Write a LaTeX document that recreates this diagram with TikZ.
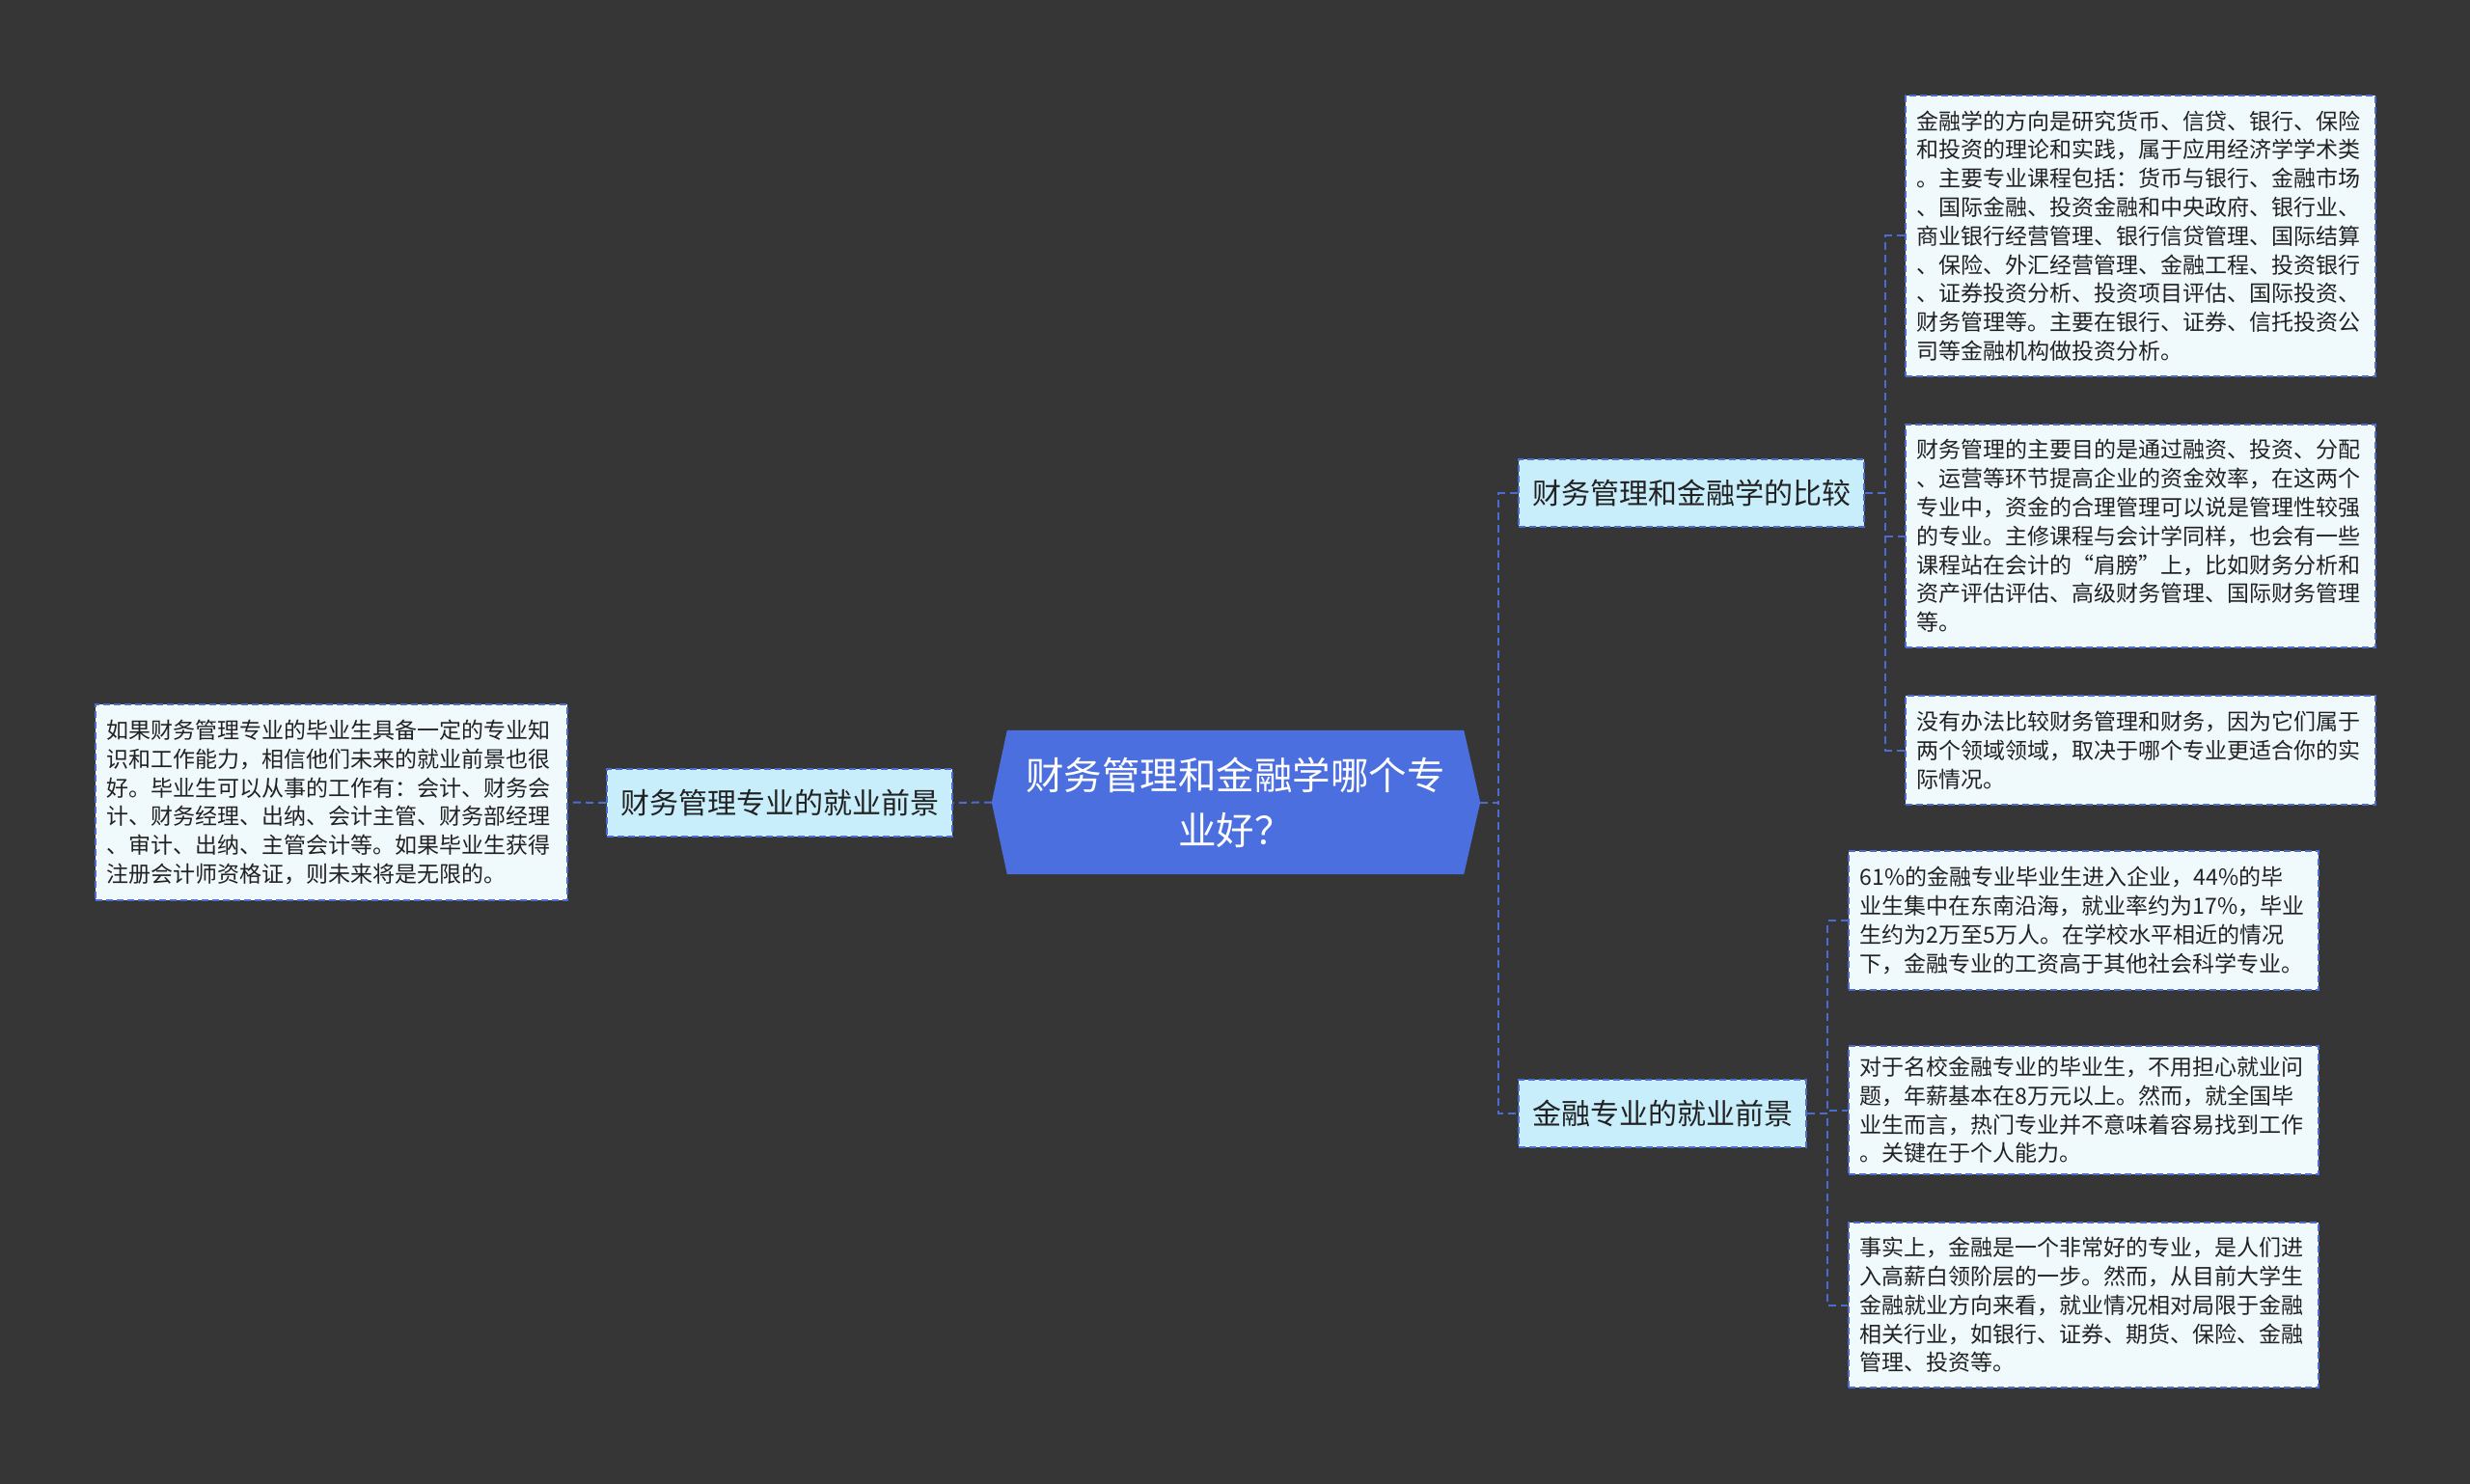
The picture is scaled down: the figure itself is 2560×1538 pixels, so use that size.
\documentclass[tikz,border=0pt]{standalone}
\usepackage{fontspec}
\setmainfont{Noto Sans CJK SC}
\usetikzlibrary{backgrounds,calc}
\definecolor{bg}{HTML}{363636}
\definecolor{rootblue}{HTML}{4B6FDE}
\definecolor{edge}{HTML}{4A6CD4}
\definecolor{midfill}{HTML}{C8EDFB}
\definecolor{leaffill}{HTML}{F0FAFD}
\definecolor{txt}{HTML}{222222}
\begin{document}
\begin{tikzpicture}[x=1pt,y=-1pt,
  conn/.style={draw=edge, line width=2pt, dash pattern=on 8pt off 5pt},
  midbox/.style={draw=edge, line width=2pt, dash pattern=on 7pt off 4pt, fill=midfill, text=txt,
    font=\fontsize{30}{36}\selectfont, inner xsep=14pt, inner ysep=0pt, minimum height=70pt, anchor=west},
  leafbox/.style={draw=edge, line width=1.8pt, dash pattern=on 7pt off 4pt, fill=leaffill, text=txt,
    font=\fontsize{23}{29.8}\selectfont, inner xsep=12pt, inner ysep=0pt, text width=463pt, align=left, anchor=west},
  rootbox/.style={text=white, font=\fontsize{39.5}{57}\selectfont, align=center,
    minimum width=473pt, minimum height=149pt, inner sep=0pt}
]
\useasboundingbox (0,0) rectangle (2560,1538);

% central topic
\node[rootbox] (root) at (1280.5,831.5) {财务管理和金融学哪个专\\业好？};

% main branches
\node[midbox] (cmp) at (1573,511) {财务管理和金融学的比较};
\node[midbox] (job) at (1573,1153.5) {金融专业的就业前景};
\node[midbox] (lnode) at (628,832) {财务管理专业的就业前景};

% left leaf
\node[leafbox, text width=465pt, minimum height=203pt] (l0) at (98,831.5) {如果财务管理专业的毕业生具备一定的专业知\\识和工作能力，相信他们未来的就业前景也很\\好。毕业生可以从事的工作有：会计、财务会\\计、财务经理、出纳、会计主管、财务部经理\\、审计、出纳、主管会计等。如果毕业生获得\\注册会计师资格证，则未来将是无限的。};

% right leaves (comparison)
\node[leafbox, minimum height=291pt] (r1) at (1974,244.5) {金融学的方向是研究货币、信贷、银行、保险\\和投资的理论和实践，属于应用经济学学术类\\。主要专业课程包括：货币与银行、金融市场\\、国际金融、投资金融和中央政府、银行业、\\商业银行经营管理、银行信贷管理、国际结算\\、保险、外汇经营管理、金融工程、投资银行\\、证券投资分析、投资项目评估、国际投资、\\财务管理等。主要在银行、证券、信托投资公\\司等金融机构做投资分析。};
\node[leafbox, minimum height=231pt] (r2) at (1974,555.5) {财务管理的主要目的是通过融资、投资、分配\\、运营等环节提高企业的资金效率，在这两个\\专业中，资金的合理管理可以说是管理性较强\\的专业。主修课程与会计学同样，也会有一些\\课程站在会计的“肩膀”上，比如财务分析和\\资产评估评估、高级财务管理、国际财务管理\\等。};
\node[leafbox, minimum height=113pt] (r3) at (1974,777.5) {没有办法比较财务管理和财务，因为它们属于\\两个领域领域，取决于哪个专业更适合你的实\\际情况。};

% right leaves (finance jobs)
\node[leafbox, minimum height=144pt] (r4) at (1915,954) {61\%的金融专业毕业生进入企业，44\%的毕\\业生集中在东南沿海，就业率约为17\%，毕业\\生约为2万至5万人。在学校水平相近的情况\\下，金融专业的工资高于其他社会科学专业。};
\node[leafbox, minimum height=133pt] (r5) at (1915,1150.5) {对于名校金融专业的毕业生，不用担心就业问\\题，年薪基本在8万元以上。然而，就全国毕\\业生而言，热门专业并不意味着容易找到工作\\。关键在于个人能力。};
\node[leafbox, minimum height=171pt] (r6) at (1915,1352.5) {事实上，金融是一个非常好的专业，是人们进\\入高薪白领阶层的一步。然而，从目前大学生\\金融就业方向来看，就业情况相对局限于金融\\相关行业，如银行、证券、期货、保险、金融\\管理、投资等。};

\coordinate (rootR) at ($(root.east)+(17,0)$);
\coordinate (rootL) at ($(root.west)+(-16,0)$);

\begin{scope}[on background layer]
  \fill[bg] (0,0) rectangle (2560,1538);
  \fill[rootblue] (rootL) -- (root.north west) -- (root.north east) -- (rootR)
     -- (root.south east) -- (root.south west) -- cycle;
  % connectors
  \draw[conn] (rootR) -- ++(19,0) |- (cmp.west);
  \draw[conn] (rootR) -- ++(19,0) |- (job.west);
  \draw[conn] (rootL) -- (lnode.east);
  \draw[conn] (lnode.west) -- (l0.east);
  \draw[conn] (cmp.east) -- ++(21,0) |- (r1.west);
  \draw[conn] (cmp.east) -- ++(21,0) |- (r2.west);
  \draw[conn] (cmp.east) -- ++(21,0) |- (r3.west);
  \draw[conn] (job.east) -- ++(21,0) |- (r4.west);
  \draw[conn] (job.east) -- ++(21,0) |- (r5.west);
  \draw[conn] (job.east) -- ++(21,0) |- (r6.west);
\end{scope}
\end{tikzpicture}
\end{document}
